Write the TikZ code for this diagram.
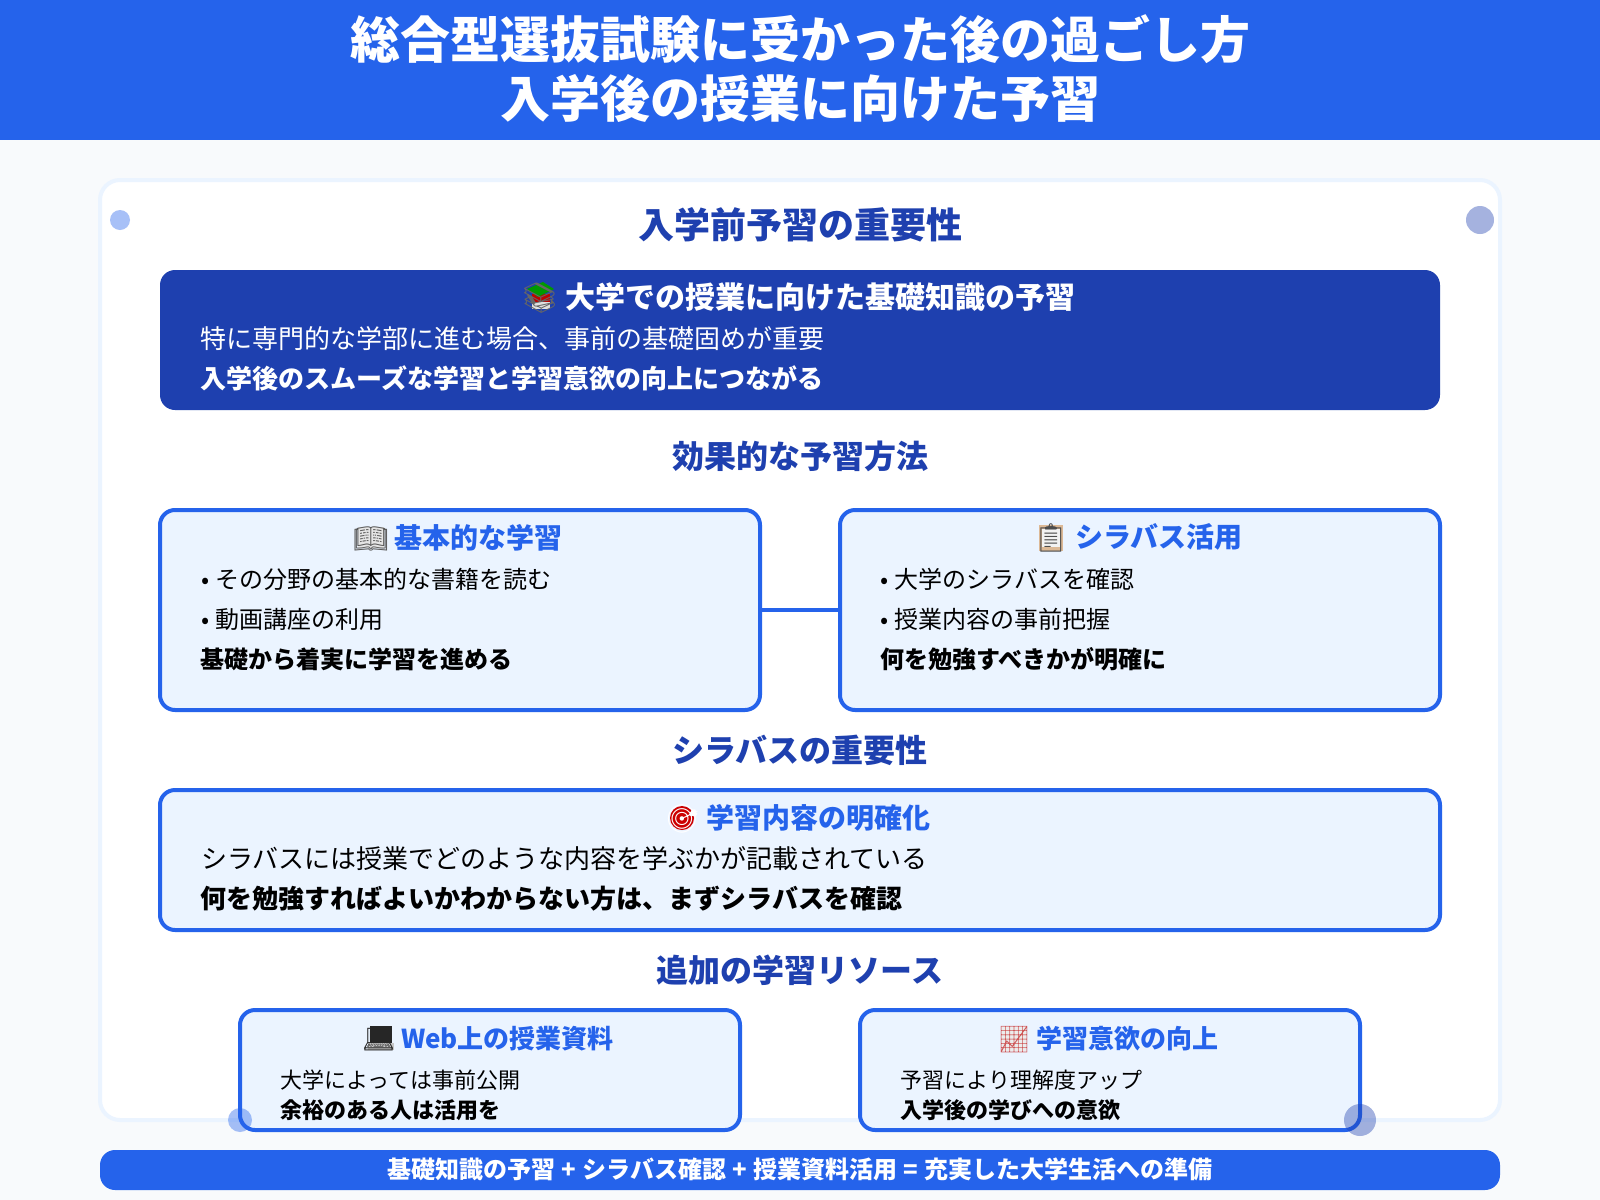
\documentclass[tikz,border=0pt]{standalone}
\usepackage{fontspec}
\setmainfont{Noto Sans CJK JP}
\newfontfamily\emojifont{Noto Emoji}
\usetikzlibrary{calc}
\definecolor{bgpage}{HTML}{F8FAFC}
\definecolor{brand}{HTML}{2563EB}
\definecolor{navy}{HTML}{1E40AF}
\definecolor{pale}{HTML}{EBF4FF}
\newcommand{\fpx}[1]{\fontsize{\fpeval{#1*0.75}}{\fpeval{#1*0.9}}\selectfont}
\newcommand{\emo}[2]{{\emojifont\color{#1}#2}}
\newcommand{\bul}{•\hspace{0.75pt}\ }
\tikzset{
  x=0.75pt,y=-0.75pt,
  every node/.style={inner sep=0pt,outer sep=0pt},
  boxa/.style={draw=brand,line width=3pt,fill=pale,rounded corners=11.25pt,anchor=north west,minimum height=#1},
  maintitle/.style={text=white,font=\fpx{50}\bfseries,anchor=center},
  sect/.style={text=navy,font=\fpx{32}\bfseries,anchor=center},
  boxtitle/.style={text=brand,font=\fpx{28}\bfseries,anchor=center},
  bodyline/.style={text=black,font=\fpx{24},anchor=west},
  boldline/.style={text=black,font=\fpx{24}\bfseries,anchor=west},
  dota/.style={fill=brand,fill opacity=.4,circle,minimum size=#1},
  dotb/.style={fill=navy,fill opacity=.4,circle,minimum size=#1},
}
\begin{document}
\begin{tikzpicture}
\useasboundingbox (0,0) rectangle (1600,1200);
\fill[bgpage] (0,0) rectangle (1600,1200);
\fill[brand] (0,0) rectangle (1600,140);
\node[maintitle] (t1) at (800,39) {総合型選抜試験に受かった後の過ごし方};
\node[maintitle] (t2) at (800,98) {入学後の授業に向けた予習};
\node[draw=pale,line width=3pt,fill=white,rounded corners=15pt,anchor=north west,minimum width=1050pt,minimum height=705pt] (card) at (100,180) {};

\node[sect,font=\fpx{36}\bfseries] (h1) at (800,225) {入学前予習の重要性};
\node[fill=navy,rounded corners=11.25pt,anchor=north west,minimum width=960pt,minimum height=105pt] (dark) at (160,270) {};
% colour patches behind the monochrome emoji glyphs
\fill[gray!25] (532,300) rectangle (550,309);
\fill[red!75!black] (532,294) rectangle (550,302);
\fill[green!60!black] (527,289) -- (543,282) -- (554,289) -- (538,297) -- cycle;
\node[boxtitle,text=white,font=\fpx{30}\bfseries] (dt) at (798,298) {\emo{black!60}{📚} 大学での授業に向けた基礎知識の予習};
\node[bodyline,text=white,font=\fpx{26}] (d1) at (200.5,339) {特に専門的な学部に進む場合、事前の基礎固めが重要};
\node[boldline,text=white,font=\fpx{26}\bfseries] (d2) at (200.5,378) {入学後のスムーズな学習と学習意欲の向上につながる};

\node[sect] (h2) at (800,456) {効果的な予習方法};
\node[boxa=150pt,minimum width=450pt] (bl) at (160,510) {};
\node[boxa=150pt,minimum width=450pt] (br) at (840,510) {};
\draw[brand,line width=3pt] (bl.east) -- (br.west);
\fill[gray!20] (358,527) rectangle (384,548);
\node[boxtitle] (blt) at (458,538) {\emo{black!65}{📖} 基本的な学習};
\fill[brown!55] (1039,525) rectangle (1063,551);
\fill[gray!10] (1042,529) rectangle (1060,547);
\node[boxtitle] (brt) at (1138,538) {\emo{black!70}{📋} シラバス活用};
\node[bodyline] (bl1) at (201,579) {\bul その分野の基本的な書籍を読む};
\node[bodyline] (bl2) at (201,619) {\bul 動画講座の利用};
\node[boldline] (bl3) at (200.5,659) {基礎から着実に学習を進める};
\node[bodyline] (br1) at (880,579) {\bul 大学のシラバスを確認};
\node[bodyline] (br2) at (880,619) {\bul 授業内容の事前把握};
\node[boldline] (br3) at (880,659) {何を勉強すべきかが明確に};

\node[sect] (h3) at (800,750) {シラバスの重要性};
\node[boxa=105pt,minimum width=960pt] (bm) at (160,790) {};
\fill[red!80!black] (682,818) circle[radius=12];
\node[boxtitle] (bmt) at (798,819) {\emo{white}{🎯} 学習内容の明確化};
\node[bodyline,font=\fpx{26}] (bm1) at (201,859) {シラバスには授業でどのような内容を学ぶかが記載されている};
\node[boldline,font=\fpx{26}\bfseries] (bm2) at (200.5,899) {何を勉強すればよいかわからない方は、まずシラバスを確認};

\node[sect] (h4) at (800,970) {追加の学習リソース};
\node[boxa=90pt,minimum width=375pt] (b3) at (240,1010) {};
\node[boxa=90pt,minimum width=375pt] (b4) at (860,1010) {};
\fill[black!85] (370,1026) rectangle (392,1043);
\fill[gray!45] (368,1043) rectangle (394,1050);
\node[boxtitle,font=\fpx{26}\bfseries] (b3t) at (488,1039) {\emo{black!85}{💻} Web上の授業資料};
\node[bodyline,font=\fpx{22}] (b31) at (280.5,1080) {大学によっては事前公開};
\node[boldline,font=\fpx{22}\bfseries] (b32) at (280.5,1110) {余裕のある人は活用を};
\fill[gray!15] (1002,1027) rectangle (1026,1051);
\node[boxtitle,font=\fpx{26}\bfseries] (b4t) at (1108,1039) {\emo{red!55!gray!85}{📈} 学習意欲の向上};
\node[bodyline,font=\fpx{22}] (b41) at (900.5,1080) {予習により理解度アップ};
\node[boldline,font=\fpx{22}\bfseries] (b42) at (900.5,1110) {入学後の学びへの意欲};

\node[dota=15pt] (c1) at (120,220) {};
\node[dotb=21pt] (c2) at (1480,220) {};
\node[dota=18pt] (c3) at (240,1120) {};
\node[dotb=24pt] (c4) at (1360,1120) {};

\node[fill=brand,rounded corners=11.25pt,anchor=north west,minimum width=1050pt,minimum height=30pt] (foot) at (100,1150) {};
\node[text=white,font=\fpx{24}\bfseries] (ft) at (800,1169.5) {基礎知識の予習\hspace{.5pt} + \hspace{.5pt}シラバス確認\hspace{.5pt} + \hspace{.5pt}授業資料活用\hspace{.5pt} = \hspace{.5pt}充実した大学生活への準備};
\end{tikzpicture}
\end{document}
